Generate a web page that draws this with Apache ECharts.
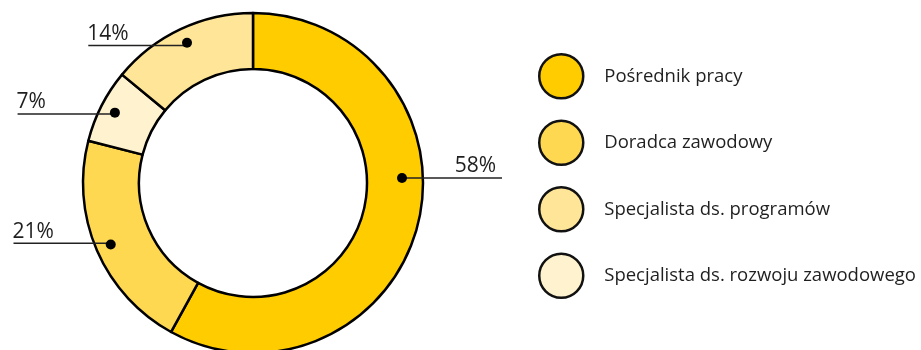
<!DOCTYPE html>
<html>
<head>
<meta charset="utf-8">
<script src="https://cdn.jsdelivr.net/npm/echarts@6/dist/echarts.min.js"></script>
<style>
  html, body { margin: 0; padding: 0; background: #ffffff; }
  #chart { width: 921px; height: 350px; }
</style>
</head>
<body>
<div id="chart"></div>
<script>
// Slices in clockwise order, starting at 12 o'clock
const categories = [
  'Pośrednik pracy',
  'Doradca zawodowy',
  'Specjalista ds. rozwoju zawodowego',
  'Specjalista ds. programów'
];
const shares = [58, 21, 7, 14];
const sliceColors = ['#FFCC00', '#FFD852', '#FFF2CE', '#FFE597'];

// Order of the entries in the key
const legendOrder = [
  'Pośrednik pracy',
  'Doradca zawodowy',
  'Specjalista ds. programów',
  'Specjalista ds. rozwoju zawodowego'
];

// Ring geometry
const CX = 253, CY = 183;
const R_IN = 114, R_OUT = 170;
const R_DOT = 152;      // radius where the leader dots sit
const LEADER = 100;     // horizontal length of each leader line
const FONT = '"Open Sans", "Noto Sans", sans-serif';
const INK = '#1f1f1f';

const biggest = shares.indexOf(Math.max.apply(null, shares));

const sliceData = categories.map((name, i) => ({
  name: name,
  value: shares[i],
  itemStyle: { color: sliceColors[i] }
}));
// invisible copies used only to place the leaders and dots
const ghostData = categories.map((name, i) => ({
  name: name,
  value: shares[i],
  itemStyle: { color: 'rgba(0,0,0,0)', borderWidth: 0 }
}));

// The dominant slice's leader leaves from the right-hand side of the ring,
// just above the horizontal centre line; the others leave from the slice mid-angle.
function anchorFor(idx, pt) {
  if (idx === biggest) return [CX + R_DOT - 3, CY - 5];
  return pt;
}

const chart = echarts.init(document.getElementById('chart'), null, { renderer: 'canvas' });

chart.setOption({
  animation: false,
  backgroundColor: '#ffffff',
  legend: {
    orient: 'vertical',
    left: 538,
    top: 53,
    padding: 0,
    data: legendOrder,
    icon: 'circle',
    itemWidth: 44,
    itemHeight: 44,
    itemGap: 20,
    selectedMode: false,
    itemStyle: { borderColor: '#111111', borderWidth: 2.5 },
    textStyle: {
      fontFamily: FONT,
      fontSize: 18.5,
      color: INK,
      padding: [0, 0, 0, 16]
    }
  },
  series: [
    {
      // the donut itself
      type: 'pie',
      z: 2,
      center: [CX, CY],
      radius: [R_IN, R_OUT],
      startAngle: 90,
      clockwise: true,
      avoidLabelOverlap: false,
      silent: true,
      itemStyle: { borderColor: '#000000', borderWidth: 2.5 },
      label: { show: false },
      labelLine: { show: false },
      emphasis: { disabled: true },
      data: sliceData
    },
    {
      // leader lines and percentage labels
      type: 'pie',
      z: 3,
      center: [CX, CY],
      radius: [0, R_DOT],
      startAngle: 90,
      clockwise: true,
      avoidLabelOverlap: false,
      silent: true,
      emphasis: { disabled: true },
      label: {
        show: true,
        position: 'outside',
        formatter: p => p.value + '%',
        fontFamily: FONT,
        fontSize: 21,
        color: INK
      },
      labelLine: {
        show: true,
        showAbove: true,
        length: 10,
        length2: 10,
        lineStyle: { color: '#222222', width: 1.5 }
      },
      labelLayout: function (p) {
        const pts = p.labelLinePoints;
        if (!pts) return {};
        const a = anchorFor(p.dataIndex, pts[0]);
        const sx = a[0], sy = a[1];
        const right = sx > CX;
        const ex = right ? sx + LEADER : sx - LEADER;
        return {
          x: right ? ex - 6 : ex - 1,
          y: sy - 1,
          align: right ? 'right' : 'left',
          verticalAlign: 'bottom',
          labelLinePoints: [[sx, sy], [(sx + ex) / 2, sy], [ex, sy]]
        };
      },
      data: ghostData
    },
    {
      // dots at the inner end of each leader
      type: 'pie',
      z: 4,
      center: [CX, CY],
      radius: [R_DOT - 1, R_DOT + 1],
      startAngle: 90,
      clockwise: true,
      avoidLabelOverlap: false,
      silent: true,
      emphasis: { disabled: true },
      label: {
        show: true,
        position: 'inside',
        formatter: '{d|}',
        rich: {
          d: { width: 10, height: 10, borderRadius: 5, backgroundColor: '#000000' }
        }
      },
      labelLine: { show: false },
      labelLayout: function (p) {
        if (p.dataIndex !== biggest) return {};
        const a = anchorFor(p.dataIndex, null);
        return { x: a[0], y: a[1], align: 'center', verticalAlign: 'middle' };
      },
      data: ghostData
    }
  ]
});
</script>
</body>
</html>
